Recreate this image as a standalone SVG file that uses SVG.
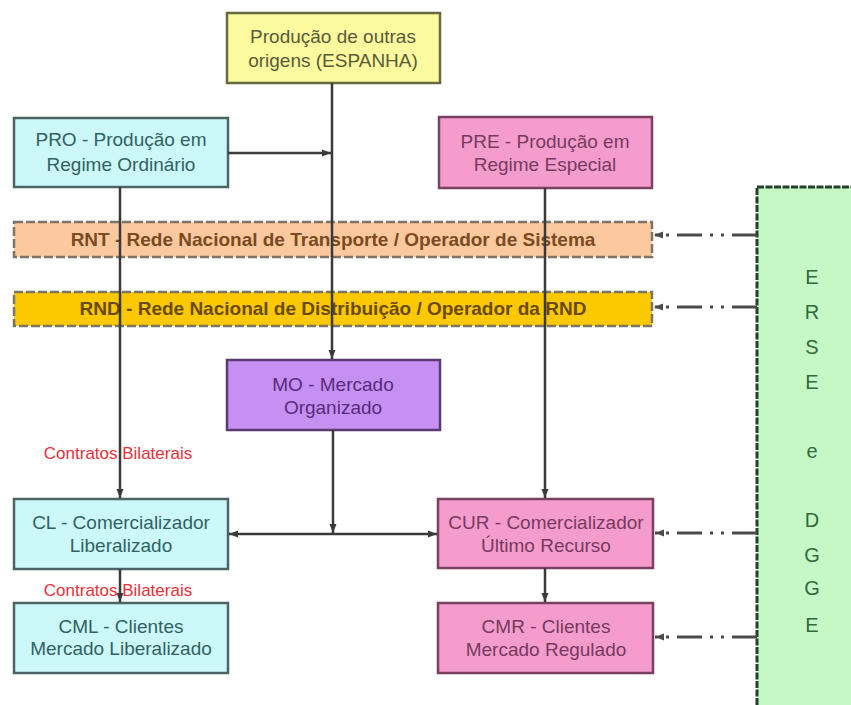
<svg xmlns="http://www.w3.org/2000/svg" width="851" height="705" viewBox="0 0 851 705">
<style>
text{font-family:"Liberation Sans",Arial,sans-serif;font-size:19px;text-anchor:middle}
.box{stroke-width:2.5}
.bar{stroke:#7d7468;stroke-width:2.5;stroke-dasharray:9 3}
.bt{font-weight:bold}
.ln{stroke:#3a3a3a;stroke-width:2.5;fill:none}
.dd{stroke:#4a4a4a;stroke-width:3;fill:none;stroke-dasharray:25 8 3 8 3 8}
.red{fill:#e8303a;font-size:17px}
.g{fill:#2f6a3a;font-size:20px}
</style>
<defs>
<marker id="ah" markerUnits="userSpaceOnUse" markerWidth="10" markerHeight="10" viewBox="0 0 10 10" refX="9" refY="5" orient="auto">
<path d="M0,1.5 L9,5 L0,8.5 Z" fill="#3a3a3a"/>
</marker>
<marker id="ah2" markerUnits="userSpaceOnUse" markerWidth="10" markerHeight="10" viewBox="0 0 10 10" refX="9" refY="5" orient="auto">
<path d="M0,1.5 L9,5 L0,8.5 Z" fill="#4a4a4a"/>
</marker>
</defs>
<rect width="851" height="705" fill="#ffffff"/>

<g id="erse">
<rect x="757" y="187" width="110" height="540" fill="#c6f8c6" stroke="#24402a" stroke-width="3" stroke-dasharray="7 1.5"/>
<text class="g" x="812" y="284">E</text>
<text class="g" x="812" y="319">R</text>
<text class="g" x="812" y="354">S</text>
<text class="g" x="812" y="389">E</text>
<text class="g" x="812" y="458">e</text>
<text class="g" x="812" y="527">D</text>
<text class="g" x="812" y="562">G</text>
<text class="g" x="812" y="595">G</text>
<text class="g" x="812" y="632">E</text>
</g>

<g id="outras">
<rect class="box" x="227" y="13" width="213" height="70" fill="#fbfa9e" stroke="#6a6a40"/>
<text x="333" y="43" fill="#5a5a3a">Produção de outras</text>
<text x="333" y="67" fill="#5a5a3a">origens (ESPANHA)</text>
</g>

<g id="pro">
<rect class="box" x="14" y="118" width="214" height="69" fill="#ccf8fa" stroke="#4d6464"/>
<text x="121" y="146" fill="#306262">PRO - Produção em</text>
<text x="121" y="171" fill="#306262">Regime Ordinário</text>
</g>

<g id="pre">
<rect class="box" x="439" y="117" width="213" height="71" fill="#f49ccc" stroke="#7a4060"/>
<text x="545" y="148" fill="#783a60">PRE - Produção em</text>
<text x="545" y="171" fill="#783a60">Regime Especial</text>
</g>

<g id="rnt">
<rect class="bar" x="14" y="222" width="638" height="35" fill="#fcc99f"/>
<text class="bt" x="333" y="246" fill="#7a4a22">RNT - Rede Nacional de Transporte / Operador de Sistema</text>
</g>

<g id="rnd">
<rect class="bar" x="14" y="292" width="638" height="34" fill="#fcc800"/>
<text class="bt" x="333" y="315" fill="#6a4a12">RND - Rede Nacional de Distribuição / Operador da RND</text>
</g>

<g id="mo">
<rect class="box" x="227" y="360" width="213" height="70" fill="#c690f2" stroke="#5a3a70"/>
<text x="333" y="391" fill="#5a2a80">MO - Mercado</text>
<text x="333" y="414" fill="#5a2a80">Organizado</text>
</g>

<g id="cl">
<rect class="box" x="14" y="499" width="214" height="70" fill="#ccf8fa" stroke="#4d6464"/>
<text x="121" y="529" fill="#306262">CL - Comercializador</text>
<text x="121" y="552" fill="#306262">Liberalizado</text>
</g>

<g id="cml">
<rect class="box" x="14" y="603" width="214" height="70" fill="#ccf8fa" stroke="#4d6464"/>
<text x="121" y="633" fill="#306262">CML - Clientes</text>
<text x="121" y="655" fill="#306262">Mercado Liberalizado</text>
</g>

<g id="cur">
<rect class="box" x="438" y="499" width="215" height="69" fill="#f49ccc" stroke="#7a4060"/>
<text x="546" y="529" fill="#783a60">CUR - Comercializador</text>
<text x="546" y="552" fill="#783a60">Último Recurso</text>
</g>

<g id="cmr">
<rect class="box" x="438" y="603" width="215" height="70" fill="#f49ccc" stroke="#7a4060"/>
<text x="546" y="633" fill="#783a60">CMR - Clientes</text>
<text x="546" y="656" fill="#783a60">Mercado Regulado</text>
</g>

<g id="connectors">
<line class="ln" x1="332" y1="83" x2="332" y2="359" marker-end="url(#ah)"/>
<line class="ln" x1="228" y1="153" x2="331" y2="153" marker-end="url(#ah)"/>
<line class="ln" x1="120" y1="187" x2="120" y2="498" marker-end="url(#ah)"/>
<line class="ln" x1="545" y1="188" x2="545" y2="498" marker-end="url(#ah)"/>
<line class="ln" x1="333" y1="430" x2="333" y2="533" marker-end="url(#ah)"/>
<line class="ln" x1="333" y1="534" x2="229" y2="534" marker-end="url(#ah)"/>
<line class="ln" x1="333" y1="534" x2="437" y2="534" marker-end="url(#ah)"/>
<line class="ln" x1="120" y1="569" x2="120" y2="602" marker-end="url(#ah)"/>
<line class="ln" x1="545" y1="568" x2="545" y2="602" marker-end="url(#ah)"/>
<line class="dd" x1="757" y1="235" x2="654" y2="235" marker-end="url(#ah2)"/>
<line class="dd" x1="757" y1="307" x2="654" y2="307" marker-end="url(#ah2)"/>
<line class="dd" x1="757" y1="533" x2="655" y2="533" marker-end="url(#ah2)"/>
<line class="dd" x1="757" y1="637" x2="655" y2="637" marker-end="url(#ah2)"/>
<text class="red" x="118" y="459">Contratos Bilaterais</text>
<text class="red" x="118" y="596">Contratos Bilaterais</text>
</g>
</svg>
